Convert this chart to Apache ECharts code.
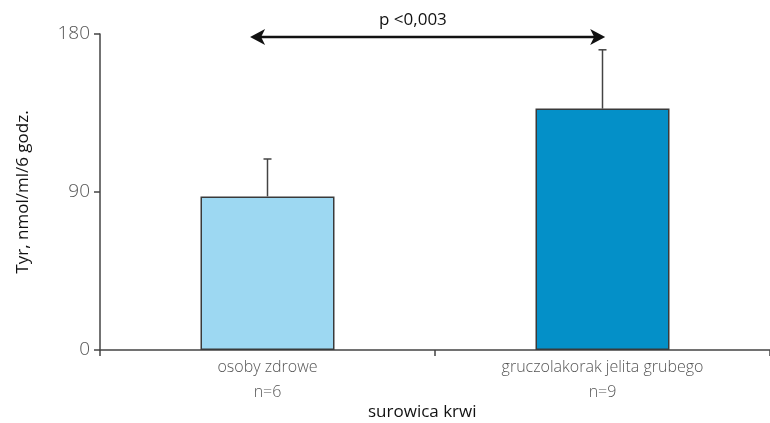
<!DOCTYPE html>
<html>
<head>
<meta charset="utf-8">
<script src="https://cdn.jsdelivr.net/npm/echarts@6/dist/echarts.min.js"></script>
<style>
  html, body { margin: 0; padding: 0; background: #fff; }
  #chart { width: 770px; height: 423px; }
</style>
</head>
<body>
<div id="chart"></div>
<script>
var dom = document.getElementById("chart");
var myChart = echarts.init(dom);

// groups on the x axis
var categories = ['osoby zdrowe', 'gruczolakorak jelita grubego'];
var groupN = [6, 9];
var xTitle = 'surowica krwi';
var yTitle = 'Tyr, nmol/ml/6 godz.';
// mean Tyr values and the upper error (SD)
var means = [87.5, 137.5];
var errors = [21.3, 33.5];
var barColors = ['#9dd8f2', '#0490c8'];
// significance arrow: from group, to group, level
var pLabel = 'p <0,003';
var arrowData = [[0, 1, 178.3]];
var yTicks = [0, 90, 180];

var errData = means.map(function (m, i) {
    return [i, m, m + errors[i]];
});

function arrowHead(x, y, dir) {
    // dir = -1 points left, 1 points right
    return [[x, y], [x - dir * 15, y - 8], [x - dir * 11, y], [x - dir * 15, y + 8]];
}

var titleFont = {
    fontFamily: 'Open Sans',
    fontSize: 17,
    fontWeight: 500,
    color: '#111'
};

var option = {
    animation: false,
    title: [{
        text: pLabel,
        left: 374,
        top: 7,
        textStyle: titleFont
    }, {
        text: xTitle,
        left: 368,
        top: 404,
        padding: 0,
        textStyle: titleFont
    }],
    grid: {
        left: 100,
        right: 0,
        top: 34,
        bottom: 73,
        outerBoundsMode: 'none'
    },
    xAxis: {
        type: 'category',
        data: categories,
        axisLine: { lineStyle: { color: '#444', width: 1.5 } },
        axisTick: { show: true, length: 6, lineStyle: { color: '#444', width: 1.5 } },
        axisLabel: {
            margin: 5,
            color: '#555',
            fontFamily: 'Open Sans',
            fontWeight: 300,
            fontSize: 16,
            lineHeight: 25,
            formatter: function (value, idx) {
                return value + '\nn=' + groupN[idx];
            }
        }
    },
    yAxis: {
        type: 'value',
        min: yTicks[0],
        max: yTicks[yTicks.length - 1],
        interval: yTicks[1] - yTicks[0],
        name: yTitle,
        nameLocation: 'middle',
        nameGap: 68,
        nameTextStyle: titleFont,
        splitLine: { show: false },
        axisLine: { show: true, lineStyle: { color: '#444', width: 1.5 } },
        axisTick: { show: true, length: 6, lineStyle: { color: '#444', width: 1.5 } },
        axisLabel: {
            margin: 10,
            color: '#555',
            fontFamily: 'Open Sans',
            fontWeight: 300,
            fontSize: 19
        }
    },
    series: [{
        type: 'bar',
        barWidth: '40%',
        data: means.map(function (m, i) {
            return { value: m, itemStyle: { color: barColors[i] } };
        }),
        itemStyle: {
            borderColor: '#3a3a3a',
            borderWidth: 1.5
        },
        z: 2
    }, {
        type: 'custom',
        data: errData,
        z: 1,
        renderItem: function (params, api) {
            var base = api.coord([api.value(0), api.value(1)]);
            var top = api.coord([api.value(0), api.value(2)]);
            var half = 4;
            return {
                type: 'group',
                children: [{
                    type: 'line',
                    shape: { x1: base[0], y1: base[1], x2: top[0], y2: top[1] },
                    style: { stroke: '#444', lineWidth: 1.5 }
                }, {
                    type: 'line',
                    shape: { x1: top[0] - half, y1: top[1], x2: top[0] + half, y2: top[1] },
                    style: { stroke: '#444', lineWidth: 1.5 }
                }]
            };
        }
    }, {
        type: 'custom',
        data: arrowData,
        z: 3,
        silent: true,
        renderItem: function (params, api) {
            var p0 = api.coord([api.value(0), api.value(2)]);
            var p1 = api.coord([api.value(1), api.value(2)]);
            var band = api.size([1, 0])[0];
            // arrow tips sit a little outside the left bar centre
            var x0 = p0[0] - band * 0.052;
            var x1 = p1[0] + band * 0.008;
            var y = p0[1];
            return {
                type: 'group',
                children: [{
                    type: 'line',
                    shape: { x1: x0 + 8, y1: y, x2: x1 - 8, y2: y },
                    style: { stroke: '#111', lineWidth: 2.5 }
                }, {
                    type: 'polygon',
                    shape: { points: arrowHead(x0, y, -1) },
                    style: { fill: '#111' }
                }, {
                    type: 'polygon',
                    shape: { points: arrowHead(x1, y, 1) },
                    style: { fill: '#111' }
                }]
            };
        }
    }]
};

myChart.setOption(option, true);
</script>
</body>
</html>
